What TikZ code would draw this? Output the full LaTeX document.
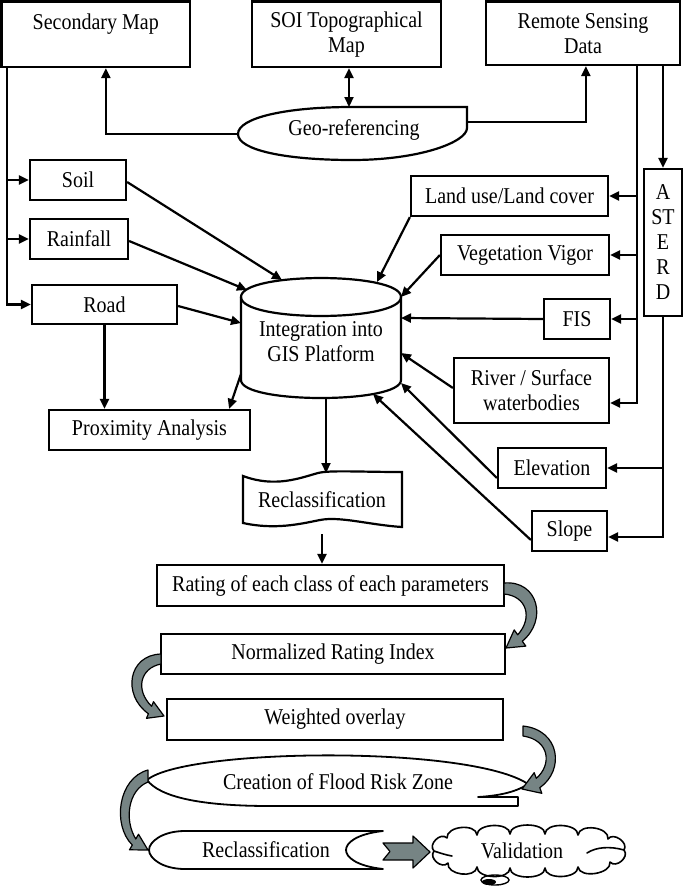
\documentclass[tikz,border=0pt]{standalone}
\usepackage{fontspec}
\setmainfont{Liberation Serif}[FakeStretch=0.885]
\usetikzlibrary{arrows.meta,calc}
\definecolor{blk}{RGB}{118,132,132}
\begin{document}
\begin{tikzpicture}[x=1pt,y=-1pt,
  font=\fontsize{22.6}{25}\selectfont,
  box/.style={draw, line width=2.2pt, fill=white, inner sep=0pt, align=center},
  ln/.style={line width=2.2pt},
  arr/.style={line width=2.2pt, -{Triangle[length=10pt,width=9pt]}},
  darr/.style={line width=2.2pt, {Triangle[length=10pt,width=9pt]}-{Triangle[length=10pt,width=9pt]}},
  shp/.style={line width=1.8pt, fill=white, line join=round},
  blockarr/.style={fill=blk, draw=black, line width=1.2pt, line join=round}]
\useasboundingbox (0,0) rectangle (685,886);

% ---------- top boxes ----------
\node[box, minimum width=188.5pt, minimum height=65.5pt] (sec) at (95.75,34.25) {Secondary Map\\\mbox{}};
\node[box, minimum width=189pt, minimum height=65.5pt] (soi) at (346.5,34.25) {SOI Topographical\\Map};
\node[box, minimum width=194pt, minimum height=63.5pt] (rs) at (583,33.25) {Remote Sensing\\Data};

% ---------- geo-referencing ----------
\draw[ln, fill=white] (467,107) -- (467,128) .. controls (467,142) and (420,160) .. (352,160)
  .. controls (285,160) and (238,150) .. (238,134) .. controls (238,118) and (285,107) .. (352,107) -- cycle;
\node (geo) at (354,130) {Geo-referencing};
\coordinate (geoL) at (238,134);
\coordinate (geoR) at (467,122);
\coordinate (geoT) at (349,107);

\draw[arr] (geoL) -| ($(sec.south west)+(105.5,0)$);
\draw[arr] (geoR) -| ($(rs.south west)+(101,0)$);
\draw[darr] (geoT |- soi.south) -- (geoT);

% ---------- left boxes ----------
\node[box, minimum width=96pt, minimum height=40pt] (soil) at (78,180) {Soil};
\node[box, minimum width=98pt, minimum height=40pt] (rain) at (79,239) {Rainfall};
\node[box, minimum width=145pt, minimum height=39pt] (road) at (104.5,304.5) {Road};
\node[box, minimum width=201pt, minimum height=40pt] (prox) at (149.5,430) {Proximity Analysis};

\coordinate (lv) at (7,0);
\draw[arr] (lv |- sec.south) |- (road.west);
\draw[arr] (lv |- soil.west) -- (soil.west);
\draw[arr] (lv |- rain.west) -- (rain.west);

% ---------- right boxes ----------
\node[box, minimum width=197pt, minimum height=40pt] (land) at (509.5,196) {Land use/Land cover};
\node[box, minimum width=168pt, minimum height=40pt] (veg) at (525,255) {Vegetation Vigor};
\node[box, minimum width=66pt, minimum height=40pt] (fis) at (577,319) {FIS};
\node[box, minimum width=155pt, minimum height=65pt] (river) at (531.5,390.5) {River / Surface\\waterbodies};
\node[box, minimum width=108pt, minimum height=40pt] (elev) at (552,468) {Elevation};
\node[box, minimum width=75pt, minimum height=40pt] (slope) at (569.5,531) {Slope};
\node[box, minimum width=38pt, minimum height=147pt] (aster) at (663,242.5) {A\\ST\\E\\R\\D};

\coordinate (v1) at (637,0);
\draw[arr] (v1 |- rs.south) |- ($(river.east)+(0,12.5)$);
\draw[arr] (v1 |- land.east) -- (land.east);
\draw[arr] (v1 |- veg.east) -- (veg.east);
\draw[arr] (v1 |- fis.east) -- (fis.east);
\draw[arr] (aster.north |- rs.south) -- (aster.north);
\draw[arr] (aster.south) |- ($(slope.east)+(0,6)$);
\draw[arr] (aster.south |- elev.east) -- (elev.east);

% ---------- cylinder ----------
\draw[ln, fill=white] (241,297) -- (241,380) .. controls (241,404) and (401,404) .. (401,380)
  -- (401,297) .. controls (401,271.7) and (241,271.7) .. (241,297) -- cycle;
\draw[ln] (241,297) .. controls (241,322.3) and (401,322.3) .. (401,297);
\node[align=center] (gis) at (321,342) {Integration into\\GIS Platform};
\coordinate (cSoil) at (282,280);
\coordinate (cRain) at (247,290);
\coordinate (cRoad) at (241,323);
\coordinate (cProx) at (241,374);
\coordinate (cLand) at (377,282);
\coordinate (cVeg) at (401,297);
\coordinate (cFis) at (401,318);
\coordinate (cRiv) at (401,353);
\coordinate (cElev) at (401,383);
\coordinate (cSlope) at (373,394);
\coordinate (cBot) at (326,398);

\draw[arr] ($(soil.east)+(0,2)$) -- (cSoil);
\draw[arr] ($(rain.east)+(0,2)$) -- (cRain);
\draw[arr] ($(road.east)+(0,1.5)$) -- (cRoad);
\draw[arr] (cProx) -- ($(prox.north east)+(-22,0)$);
\draw[arr] (road.south) -- (road.south |- prox.north);
\draw[arr] (land.south west) -- (cLand);
\draw[arr] (veg.west) -- (cVeg);
\draw[arr] (fis.west) -- (cFis);
\draw[arr] ($(river.west)+(0,-2.5)$) -- (cRiv);
\draw[arr] ($(elev.west)+(0,10)$) -- (cElev);
\draw[arr] ($(slope.west)+(0,9)$) -- (cSlope);

% ---------- reclassification (tape) ----------
\draw[ln, fill=white] (243,476) .. controls (275,488) and (300,478) .. (318,473)
  .. controls (330,470) and (360,472) .. (402,472) -- (402,527)
  .. controls (370,525) and (340,516) .. (320,520) .. controls (300,524) and (275,530) .. (243,523) -- cycle;
\node (recl1) at (322,500) {Reclassification};
\coordinate (rc1top) at (326,473);
\coordinate (rc1bot) at (322,534);
\draw[arr] (cBot) -- (rc1top);

% ---------- lower boxes ----------
\node[box, minimum width=347pt, minimum height=41pt] (rating) at (330.5,585.5) {Rating of each class of each parameters};
\node[box, minimum width=344pt, minimum height=40pt] (norm) at (333,654) {Normalized Rating Index};
\node[box, minimum width=336pt, minimum height=41pt] (wo) at (335,719.5) {Weighted overlay};
\draw[arr] (rc1bot) -- (rc1bot |- rating.north);

% ---------- creation of flood risk zone ----------
\draw[shp] (147,780) .. controls (185,748) and (470,745) .. (528,784)
  .. controls (515,793) and (495,796) .. (478,797) -- (518,797) -- (518,806) -- (270,806)
  .. controls (200,806) and (160,797) .. (147,780) -- cycle;
\node (cfrz) at (338,782) {Creation of Flood Risk Zone};

% ---------- reclassification (stored data) ----------
\draw[shp] (185,831) -- (383,831) .. controls (356,834) and (346,843) .. (346,850)
  .. controls (346,857) and (356,866) .. (383,869) -- (185,869)
  .. controls (162,869) and (149,858) .. (149,850) .. controls (149,842) and (162,831) .. (185,831) -- cycle;
\node (recl2) at (266,850) {Reclassification};

% ---------- validation (cloud) ----------
\draw[line width=1.6pt, fill=white, line join=round]
  (434,851) .. controls (427.6,844.6) and (440.6,831.6) .. (447,838)
  .. controls (446,826) and (476,823) .. (477,835)
  .. controls (477,823) and (510,822) .. (510,834)
  .. controls (510,822) and (545,822) .. (545,834)
  .. controls (545,822) and (578,823) .. (578,835)
  .. controls (579.6,823) and (609.6,827) .. (608,839)
  .. controls (613,831.6) and (629,842.6) .. (624,850)
  .. controls (629.9,856.8) and (615.9,868.8) .. (610,862)
  .. controls (611.8,873.9) and (579.8,878.9) .. (578,867)
  .. controls (578,879) and (545,880) .. (545,868)
  .. controls (545,880) and (510,880) .. (510,868)
  .. controls (510,880) and (477,879) .. (477,867)
  .. controls (475.3,878.9) and (446.3,874.9) .. (448,863)
  .. controls (442.1,869.8) and (428.1,857.8) .. (434,851) -- cycle;
\draw[line width=1.6pt, line cap=round] (434,851) .. controls (440,853) and (446,855) .. (452,856);
\draw[line width=1.6pt, line cap=round] (624,850) .. controls (610,846) and (596,847) .. (587,853);
\node (val) at (522,851) {Validation};
\draw[line width=1.4pt] (495,880) ellipse [x radius=14, y radius=5];
\fill (489,882) ellipse [x radius=7, y radius=3];

% ---------- block arrows ----------
\filldraw[blockarr] (504,583) .. controls (538,580) and (548,620) .. (522.3,641.2) -- (525.8,646.1) -- (506,648)
  -- (514.2,629.9) -- (517.7,634.8) .. controls (533,618) and (527,596) .. (504,594) -- cycle;
\filldraw[blockarr] (161,654) .. controls (128,655) and (122,695) .. (148.4,713.7) -- (146.5,718.3) -- (164,716)
  -- (153.5,701.7) -- (151.6,706.3) .. controls (135,690) and (140,668) .. (161,664) -- cycle;
\filldraw[blockarr] (523,726) .. controls (560,730) and (565,770) .. (539.8,787.7) -- (541.8,793.3) -- (522,789)
  -- (534.2,772.7) -- (536.3,778.3) .. controls (552,765) and (550,740) .. (523,736) -- cycle;
\filldraw[blockarr] (148,770) .. controls (118,778) and (112,825) .. (132.3,845) -- (129.5,849.8) -- (148,850)
  -- (138.5,834.2) -- (135.8,839) .. controls (124,820) and (128,790) .. (148,782) -- cycle;
\filldraw[blockarr] (383,843) -- (413,843) -- (413,836) -- (430,852) -- (413,868) -- (413,860) -- (383,860) -- (390,851.5) -- cycle;
\end{tikzpicture}
\end{document}
